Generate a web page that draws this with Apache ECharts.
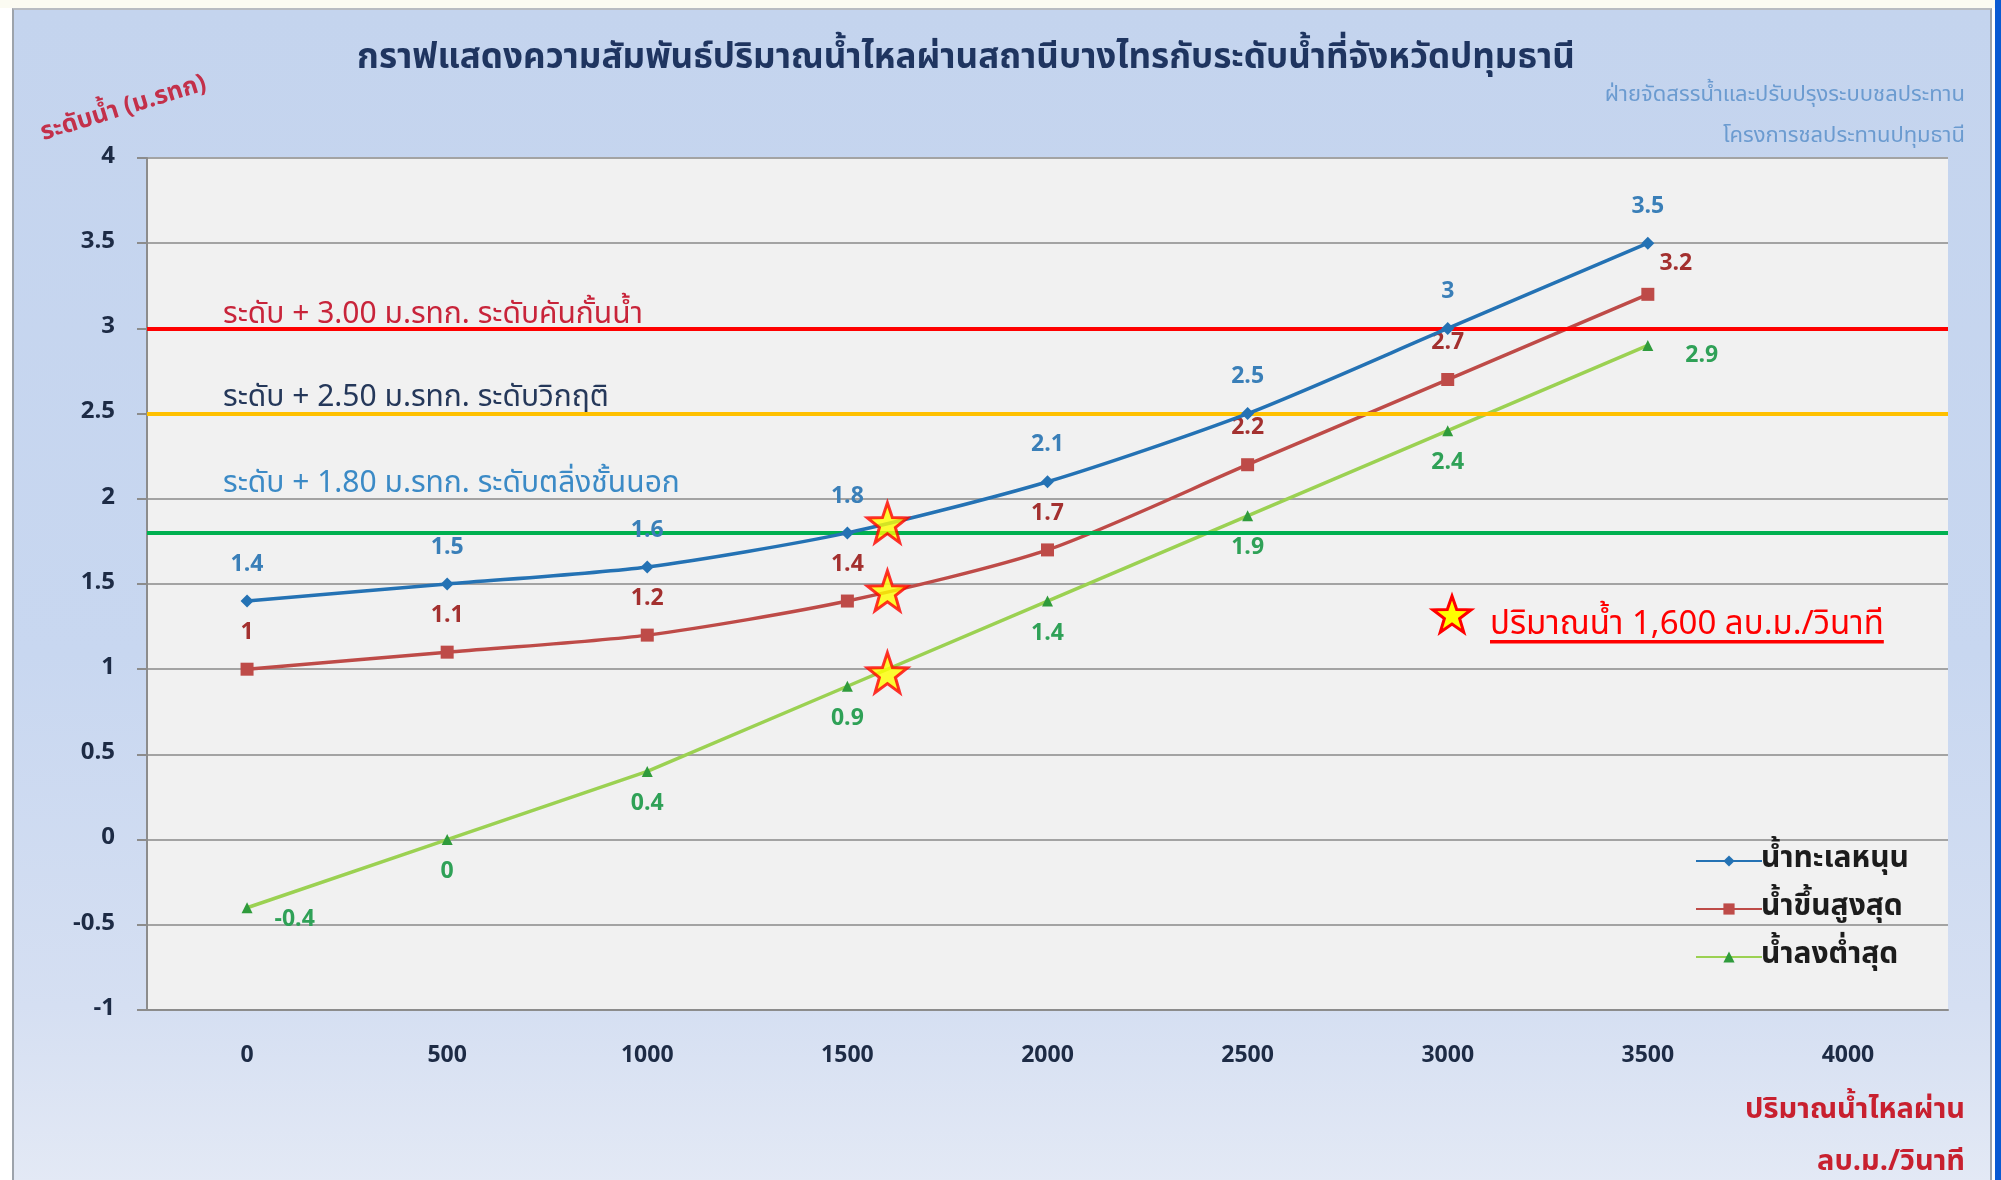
<!DOCTYPE html>
<html>
<head>
<meta charset="utf-8">
<script src="https://cdn.jsdelivr.net/npm/echarts@6/dist/echarts.min.js"></script>
<style>
  html, body { margin: 0; padding: 0; background: #ffffff; }
  #wrap { position: relative; width: 2001px; height: 1180px; overflow: hidden; }
  #topband { position: absolute; left: 0; top: 0; width: 1995px; height: 8px; background: #fbfbf2; }
  #frame { position: absolute; left: 12px; top: 8px; width: 1976px; height: 1172px;
           border-left: 2px solid #9da3ab; border-top: 2px solid #b8bcc2; border-right: 2px solid #9da3ab;
           background: linear-gradient(180deg, #c4d4ee 0%, #c8d7f0 55%, #d5dff2 85%, #e3e9f5 100%); }
  #edge { position: absolute; left: 1995px; top: 0; width: 6px; height: 1180px; background: #0b5bd3; }
  #chart { position: absolute; left: 0; top: 0; width: 2001px; height: 1180px; }
</style>
</head>
<body>
<div id="wrap">
  <div id="topband"></div>
  <div id="frame"></div>
  <div id="edge"></div>
  <div id="chart"></div>
</div>
<script>
// Discharge past Bang Sai station (m³/s) against water level at Pathum Thani (m MSL)
const flowCategories = ['0', '500', '1000', '1500', '2000', '2500', '3000', '3500', '4000'];
const seriesNames = ['น้ำทะเลหนุน', 'น้ำขึ้นสูงสุด', 'น้ำลงต่ำสุด'];
const seaSurge = [1.4, 1.5, 1.6, 1.8, 2.1, 2.5, 3, 3.5];
const highTide = [1, 1.1, 1.2, 1.4, 1.7, 2.2, 2.7, 3.2];
const lowTide = [-0.4, 0, 0.4, 0.9, 1.4, 1.9, 2.4, 2.9];

// Levels at the 1,600 m³/s discharge
const markedFlow = 1600;
const markedLevels = [1.86, 1.46, 0.98];

// Warning levels
const thresholdLevels = [3.0, 2.5, 1.8];
const thresholdTexts = [
  'ระดับ + 3.00 ม.รทก. ระดับคันกั้นน้ำ',
  'ระดับ + 2.50 ม.รทก. ระดับวิกฤติ',
  'ระดับ + 1.80 ม.รทก. ระดับตลิ่งชั้นนอก'
];

const yMin = -1, yMax = 4, yStep = 0.5;

const titleText = 'กราฟแสดงความสัมพันธ์ปริมาณน้ำไหลผ่านสถานีบางไทรกับระดับน้ำที่จังหวัดปทุมธานี';
const agencyLines = ['ฝ่ายจัดสรรน้ำและปรับปรุงระบบชลประทาน', 'โครงการชลประทานปทุมธานี'];
const yAxisTitle = 'ระดับน้ำ (ม.รทก)';
const xAxisTitleLines = ['ปริมาณน้ำไหลผ่าน', 'ลบ.ม./วินาที'];
const noteText = 'ปริมาณน้ำ 1,600 ลบ.ม./วินาที';

const FONT = 'Tahoma, "Leelawadee UI", "Noto Sans Thai", "DejaVu Sans", sans-serif';

// five-pointed star outline
function starPoints(cx, cy, R, r) {
  const pts = [];
  for (let k = 0; k < 10; k++) {
    const rad = k % 2 === 0 ? R : r;
    const a = -Math.PI / 2 + k * Math.PI / 5;
    pts.push([cx + rad * Math.cos(a), cy + rad * Math.sin(a)]);
  }
  return pts;
}
const STAR_PATH = 'path://' + starPoints(50, 52, 50, 20)
  .map((p, i) => (i ? 'L' : 'M') + p[0].toFixed(2) + ' ' + p[1].toFixed(2)).join(' ') + ' Z';

const palette = {
  surge: '#2472b4', high: '#be4b48', low: '#9bd152',
  surgeLabel: '#3a7fb8', highLabel: '#a3302f', lowLabel: '#2fa157',
  lowMarker: '#2f9b3c'
};

// per-point label placement tweaks
function labelled(values, tweaks) {
  return values.map((v, i) => tweaks[i] ? { value: v, label: tweaks[i] } : v);
}
const labelFont = { fontSize: 23, fontWeight: 'bold', fontFamily: FONT };

const chart = echarts.init(document.getElementById('chart'), null, { renderer: 'canvas' });

const option = {
  backgroundColor: 'transparent',
  animation: false,
  grid: { left: 147, right: 53, top: 158, bottom: 170, show: true, backgroundColor: '#f1f1f1', borderWidth: 0 },
  xAxis: [
    {
      type: 'category', data: flowCategories, boundaryGap: true,
      axisLine: { show: true, onZero: false, lineStyle: { color: '#8c8c8c', width: 2 } },
      axisTick: { show: false },
      axisLabel: { color: '#1d2b45', fontSize: 23, fontWeight: 'bold', fontFamily: FONT, margin: 36 },
      splitLine: { show: false }
    },
    { type: 'value', min: -250, max: 4250, show: false }
  ],
  yAxis: {
    type: 'value', min: yMin, max: yMax, interval: yStep,
    axisLine: { show: true, onZero: false, lineStyle: { color: '#8c8c8c', width: 2 } },
    axisTick: { show: true, length: 10, lineStyle: { color: '#8c8c8c', width: 2 } },
    axisLabel: { color: '#1d2b45', fontSize: 24, fontWeight: 'bold', fontFamily: FONT, margin: 32 },
    splitLine: { show: true, lineStyle: { color: '#a3a3a3', width: 2 } }
  },
  legend: {
    data: seriesNames, orient: 'vertical', left: 1690, top: 841,
    itemWidth: 66, itemHeight: 14, itemGap: 18,
    textStyle: { color: '#1c1c1c', fontSize: 30, fontWeight: 'bold', fontFamily: FONT, padding: [0, 0, 0, -6] }
  },
  series: [
    {
      name: seriesNames[0], type: 'line', data: seaSurge,
      smooth: 0.25, symbol: 'diamond', symbolSize: 13,
      lineStyle: { color: palette.surge, width: 3.5 }, itemStyle: { color: palette.surge },
      label: Object.assign({ show: true, position: 'top', distance: 17, color: palette.surgeLabel }, labelFont),
      z: 5,
      markLine: {
        silent: true, symbol: 'none', label: { show: false },
        data: [
          { yAxis: thresholdLevels[0], lineStyle: { color: '#ff0000', width: 4, type: 'solid' } },
          { yAxis: thresholdLevels[1], lineStyle: { color: '#ffc000', width: 4, type: 'solid' } },
          { yAxis: thresholdLevels[2], lineStyle: { color: '#00b050', width: 4, type: 'solid' } }
        ]
      }
    },
    {
      name: seriesNames[1], type: 'line',
      data: labelled(highTide, { 7: { offset: [28, 6] } }),
      smooth: 0.25, symbol: 'rect', symbolSize: 13,
      lineStyle: { color: palette.high, width: 3.5 }, itemStyle: { color: palette.high },
      label: Object.assign({ show: true, position: 'top', distance: 17, color: palette.highLabel }, labelFont),
      z: 4
    },
    {
      name: seriesNames[2], type: 'line',
      data: labelled(lowTide, {
        0: { position: 'right', distance: 22, offset: [0, 14] },
        7: { position: 'right', distance: 32, offset: [0, 12] }
      }),
      symbol: 'triangle', symbolSize: 11,
      lineStyle: { color: palette.low, width: 3.5 }, itemStyle: { color: palette.lowMarker },
      label: Object.assign({ show: true, position: 'bottom', distance: 17, color: palette.lowLabel }, labelFont),
      z: 3
    },
    {
      name: 'marked', type: 'scatter', xAxisIndex: 1,
      data: markedLevels.map(v => [markedFlow, v]),
      symbol: STAR_PATH, symbolSize: 40,
      itemStyle: { color: '#ffff00', borderColor: '#ff0000', borderWidth: 3 },
      z: 10
    }
  ]
};

chart.setOption(option);

// measure text widths with the same font stack
const ctx = document.createElement('canvas').getContext('2d');
const noteFont = '33px ' + FONT;
ctx.font = noteFont;
const noteWidth = ctx.measureText(noteText).width;

// overlay texts; threshold captions follow their lines
const gfx = [
  { type: 'text', id: 'title', x: 966, y: 61,
    style: { text: titleText, fill: '#1f3560', font: 'bold 35px ' + FONT, textAlign: 'center', textVerticalAlign: 'middle' } },
  { type: 'text', id: 'agency1', x: 1965, y: 97,
    style: { text: agencyLines[0], fill: '#6b9bd0', font: '22px ' + FONT, textAlign: 'right', textVerticalAlign: 'middle' } },
  { type: 'text', id: 'agency2', x: 1965, y: 138,
    style: { text: agencyLines[1], fill: '#6b9bd0', font: '22px ' + FONT, textAlign: 'right', textVerticalAlign: 'middle' } },
  { type: 'text', id: 'yname', x: 124, y: 110, rotation: 0.3,
    style: { text: yAxisTitle, fill: '#c3304a', font: 'bold 25px ' + FONT, textAlign: 'center', textVerticalAlign: 'middle' } },
  { type: 'text', id: 'xname1', x: 1965, y: 1112,
    style: { text: xAxisTitleLines[0], fill: '#c8202f', font: 'bold 29px ' + FONT, textAlign: 'right', textVerticalAlign: 'middle' } },
  { type: 'text', id: 'xname2', x: 1965, y: 1164,
    style: { text: xAxisTitleLines[1], fill: '#c8202f', font: 'bold 29px ' + FONT, textAlign: 'right', textVerticalAlign: 'middle' } },
  { type: 'polygon', id: 'noteStar', shape: { points: starPoints(1452, 616, 20, 8) },
    style: { fill: '#ffff00', stroke: '#ff0000', lineWidth: 3 }, z: 20 },
  { type: 'text', id: 'note', x: 1490, y: 627,
    style: { text: noteText, fill: '#ff0000', font: noteFont, textAlign: 'left', textVerticalAlign: 'middle' }, z: 20 },
  { type: 'rect', id: 'noteLine', shape: { x: 1490, y: 640, width: noteWidth, height: 3.5 },
    style: { fill: '#ff0000' }, z: 20 }
];

const captionColors = ['#c8243a', '#25385a', '#3b8ac6'];
const captionLift = [11, 14, 47];
thresholdLevels.forEach((lv, i) => {
  const y = chart.convertToPixel({ yAxisIndex: 0 }, lv);
  gfx.push({ type: 'text', id: 'cap' + i, x: 223, y: y - captionLift[i],
    style: { text: thresholdTexts[i], fill: captionColors[i], font: '30px ' + FONT, textAlign: 'left', textVerticalAlign: 'middle' }, z: 20 });
});

chart.setOption({ graphic: gfx });
</script>
</body>
</html>
